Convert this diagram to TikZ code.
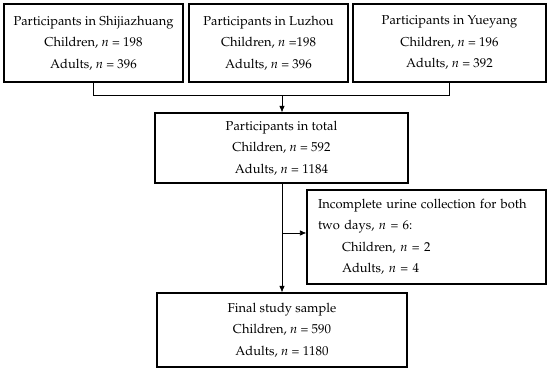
\documentclass[tikz,border=0pt]{standalone}
\usepackage[T1]{fontenc}
\usepackage{mathpazo}
\usetikzlibrary{arrows.meta}
\tikzset{
  box/.style={draw, line width=1.2pt, minimum height=78pt, inner sep=0pt, align=center, font=\fontsize{12.9}{21.5}\selectfont},
  conn/.style={line width=0.7pt},
  arr/.style={line width=0.7pt, -{Latex[length=6.5pt,width=5.5pt]}}
}
\begin{document}
\begin{tikzpicture}[x=1pt,y=-1pt]
\useasboundingbox (0,0) rectangle (550,371);
\node[box, minimum width=179pt] (b1) at (93.5,43) {Participants in Shijiazhuang\\Children, $n$ = 198\\Adults, $n$ = 396};
\node[box, minimum width=159pt] (b2) at (268.5,43) {Participants in Luzhou\\Children, $n$ =198\\Adults, $n$ = 396};
\node[box, minimum width=193pt] (b3) at (449.5,43) {Participants in Yueyang\\Children, $n$ = 196\\Adults, $n$ = 392};
\node[box, minimum width=253pt, minimum height=70pt] (tot) at (281.5,148) {Participants in total\\Children, $n$ = 592\\Adults, $n$ = 1184};
\node[box, minimum height=94pt, inner xsep=11pt, text width=217pt, align=left] (inc) at (426.5,237) {Incomplete urine collection for both\\two days, $n$ = 6:\\\hspace*{24pt}Children, $n$ = 2\\\hspace*{24pt}Adults, $n$ = 4};
\node[box, minimum width=250pt, minimum height=74pt] (fin) at (282,330) {Final study sample\\Children, $n$ = 590\\Adults, $n$ = 1180};
\coordinate (j) at (282,95.5);
\coordinate (k) at (282,233);
\draw[conn] (b1.south) -- (b1.south |- j) -- (b3.south |- j) -- (b3.south);
\draw[arr] (j) -- (j |- tot.north);
\draw[arr] (tot.south -| j) -- (fin.north -| j);
\draw[arr] (k) -- (inc.west |- k);
\end{tikzpicture}
\end{document}
